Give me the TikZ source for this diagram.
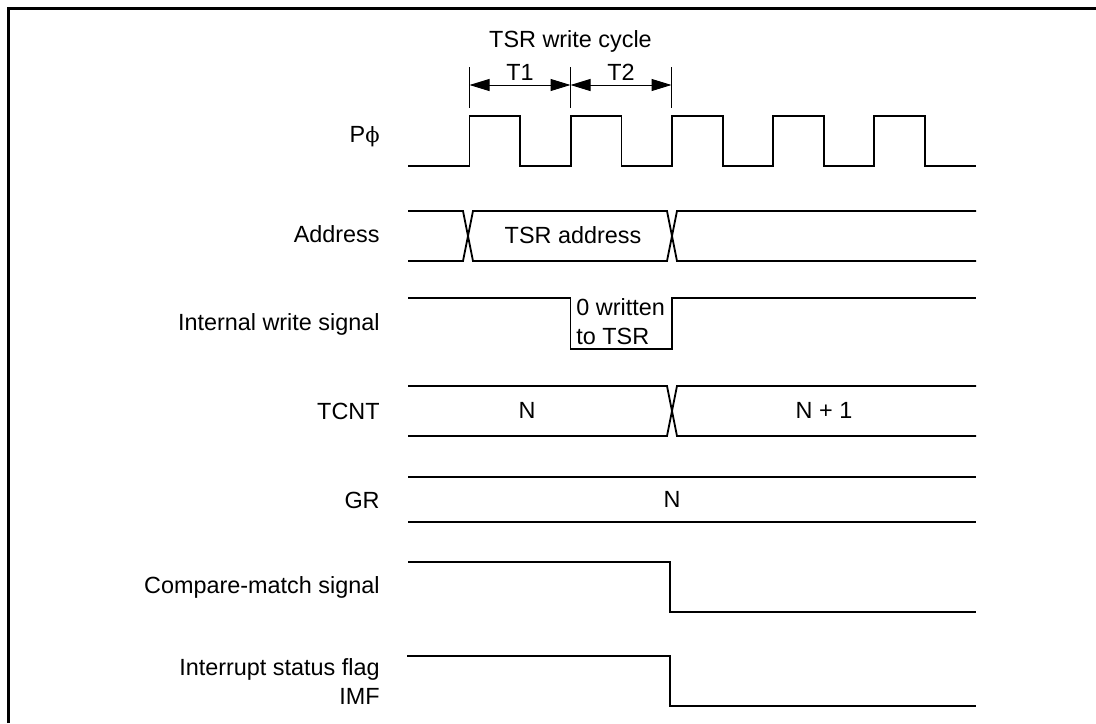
\documentclass[tikz,border=0pt]{standalone}
\usepackage{fontspec}
\setmainfont{Liberation Sans}
\newfontfamily\phifont{DejaVu Serif}
\usetikzlibrary{arrows.meta}

\begin{document}
\begin{tikzpicture}[
  x=0.5pt, y=-0.5pt,
  font=\fontsize{11.7}{14.5}\selectfont,
  sig/.style={line width=0.9pt, line join=miter},
  signame/.style={anchor=base east, inner sep=0pt},
  val/.style={anchor=base, inner sep=0pt},
  span/.style={{Triangle[length=10pt,width=6pt]}-{Triangle[length=10pt,width=6pt]}, line width=0.5pt},
  mark line/.style={line width=0.5pt}
]
\useasboundingbox (0,0) rectangle (1096,723);
\draw[line width=1.5pt] (8.5,723) -- (8.5,8.5) -- (1096,8.5);

% signal names
\node[signame] (pphi) at (380,142) {P{\phifont\fontsize{10.5}{12}\selectfont ϕ}};
\node[signame] (addr) at (380,242) {Address};
\node[signame] (wr)   at (380,330) {Internal write signal};
\node[signame] (tcnt) at (380,419) {TCNT};
\node[signame] (gr)   at (380,508) {GR};
\node[signame] (cmp)  at (380,593) {Compare-match signal};
\node[anchor=east, align=right, inner sep=0pt] (imf) at (380,681.5) {Interrupt status flag\\IMF};

% write cycle
\node[val] (cycle) at (570.5,47) {TSR write cycle};
\coordinate (t0) at (469.5,85);
\coordinate (t1) at (570.5,85);
\coordinate (t2) at (671.5,85);
\foreach \t in {t0,t1,t2}
  \draw[mark line] (\t) ++(0,-18) -- ++(0,41);
\draw[span] (t0) -- (t1);
\draw[span] (t1) -- (t2);
\node[val] (T1) at (520,80) {T1};
\node[val] (T2) at (621,80) {T2};

% clock
\draw[sig] (408,166)
  \foreach \k [evaluate=\k as \r using 469.5+101.2*\k] in {0,...,4}
    { -- (\r,166) -- (\r,116) -- (\r+50.8,116) -- (\r+50.8,166) }
  -- (976,166);

% address bus
\draw[sig] (408,211) -- (463,211) -- (473,261) -- (667,261) -- (677,211) -- (976,211);
\draw[sig] (408,261) -- (463,261) -- (473,211) -- (667,211) -- (677,261) -- (976,261);
\node[val] (tsra) at (573,243) {TSR address};

% internal write
\draw[sig] (408,298) -- (570.5,298) -- (570.5,349) -- (672,349) -- (672,298) -- (976,298);
\node[anchor=north west, align=left, inner sep=0pt] (wr0) at (576,298.5) {0 written\\to TSR};

% TCNT
\draw[sig] (408,386) -- (667,386) -- (677,436) -- (976,436);
\draw[sig] (408,436) -- (667,436) -- (677,386) -- (976,386);
\node[val] (cn)  at (527,418) {N};
\node[val] (cn1) at (824,418) {N + 1};

% GR
\draw[sig] (408,477) -- (976,477);
\draw[sig] (408,522) -- (976,522);
\node[val] (gn) at (672,507.5) {N};

% compare match and IMF
\draw[sig] (408,562) -- (670,562) -- (670,612) -- (976,612);
\draw[sig] (407,656) -- (670,656) -- (670,706) -- (976,706);
\end{tikzpicture}
\end{document}
